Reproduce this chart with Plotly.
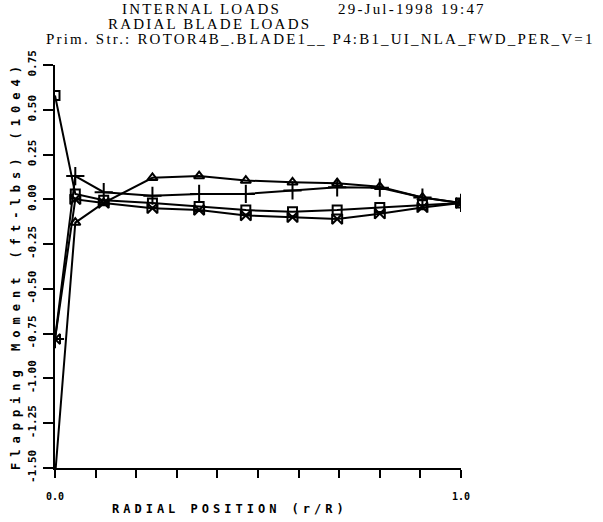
import plotly.graph_objects as go

# ---- data ----
r_over_R = [0.0, 0.05, 0.12, 0.24, 0.355, 0.47, 0.585, 0.695, 0.80, 0.905, 1.0]
series_square = [0.58, 0.03, -0.005, -0.02, -0.04, -0.06, -0.07, -0.06, -0.045, -0.03, -0.02]
series_bowtie = [-0.78, 0.0, -0.02, -0.05, -0.06, -0.09, -0.10, -0.11, -0.08, -0.045, -0.02]
series_triangle = [-1.55, -0.13, -0.02, 0.12, 0.13, 0.105, 0.095, 0.09, 0.07, 0.01, -0.02]
series_plus = [-0.78, 0.13, 0.04, 0.02, 0.03, 0.03, 0.05, 0.067, 0.065, 0.01, -0.02]

y_tickvals = [-1.5, -1.25, -1.0, -0.75, -0.5, -0.25, 0.0, 0.25, 0.5, 0.75]
y_ticktext = ["-1.50", "-1.25", "-1.00", "-0.75", "-0.50", "-0.25", "0.00", "0.25", "0.50", "0.75"]
x_tickvals = [0.0, 0.1, 0.2, 0.3, 0.4, 0.5, 0.6, 0.7, 0.8, 0.9, 1.0]
x_ticktext = ["0.0", "", "", "", "", "", "", "", "", "", "1.0"]

W, H = 603, 522
# plot area in page pixels
L, R, T, B = 55, 461, 65, 468


def px(x):
    return (x - L) / (R - L)


def py(y):
    return (B - y) / (B - T)


fig = go.Figure()

mono = "DejaVu Sans Mono"
serif = "Liberation Serif"

for ys, sym, size in [
    (series_square, "square-open", 9),
    (series_bowtie, "bowtie-open", 10),
    (series_triangle, "triangle-up-open", 9),
    (series_plus, "cross-thin-open", 13),
]:
    fig.add_trace(go.Scatter(
        x=r_over_R, y=ys, mode="lines+markers",
        line=dict(color="black", width=2),
        marker=dict(symbol=sym, size=size, color="black",
                    line=dict(color="black", width=2)),
        showlegend=False,
    ))

fig.update_layout(
    width=W, height=H,
    margin=dict(l=L, r=W - R, t=T, b=H - B, autoexpand=False),
    paper_bgcolor="white", plot_bgcolor="white",
    font=dict(family=mono, color="black"),
    xaxis=dict(range=[0, 1], tickvals=x_tickvals, ticktext=x_ticktext,
               showgrid=False, zeroline=False, showline=True,
               linecolor="black", linewidth=2, ticks="outside",
               ticklen=8, tickwidth=2, tickcolor="black",
               tickfont=dict(family=mono, size=10, weight="bold"),
               ticklabelstandoff=10),
    yaxis=dict(range=[-1.5, 0.75], tickvals=y_tickvals, ticktext=y_ticktext,
               showgrid=False, zeroline=False, showline=True,
               linecolor="black", linewidth=2, ticks="outside",
               ticklen=10, tickwidth=2, tickcolor="black",
               tickangle=-90, ticklabelstandoff=3,
               tickfont=dict(family=mono, size=11, weight="bold")),
)

tsp = '<span style="letter-spacing:2.2px">%s</span>'
annotations = [
    dict(text=tsp % "INTERNAL LOADS", x=px(201), y=py(9), font=dict(family=serif, size=15)),
    dict(text=tsp % "29-Jul-1998 19:47", x=px(412), y=py(9), font=dict(family=serif, size=15)),
    dict(text=tsp % "RADIAL BLADE LOADS", x=px(209), y=py(24), font=dict(family=serif, size=15)),
    dict(text=tsp % "Prim. Str.: ROTOR4B_.BLADE1__ P4:B1_UI_NLA_FWD_PER_V=1",
         x=px(44), y=py(39), xanchor="left", font=dict(family=serif, size=15)),
    dict(text='<span style="letter-spacing:4px">RADIAL POSITION (r/R)</span>',
         x=px(230), y=py(509), font=dict(family=mono, size=12, weight="bold")),
    dict(text='<span style="letter-spacing:6px">Flapping Moment (ft-lbs) (10e4)</span>',
         x=px(16), y=py(265), textangle=-90, font=dict(family=mono, size=12, weight="bold")),
]
for a in annotations:
    a.update(xref="paper", yref="paper", showarrow=False)
    a.setdefault("xanchor", "center")
    a.setdefault("yanchor", "middle")
fig.update_layout(annotations=annotations)

fig.write_html("out.html", config={"displayModeBar": False},
               post_script="document.body.style.margin='0';")
